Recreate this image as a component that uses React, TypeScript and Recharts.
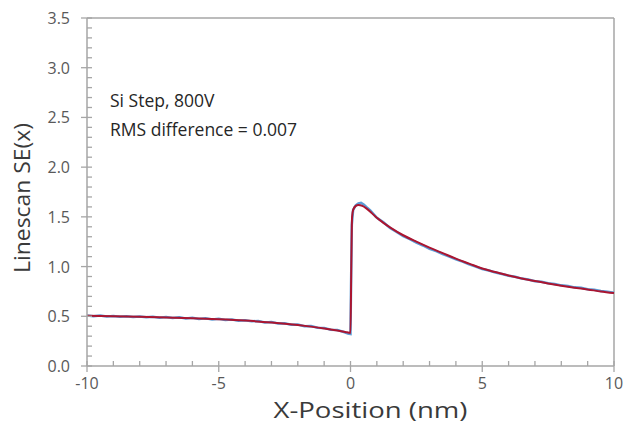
import { Line, LineChart, ReferenceLine, XAxis, YAxis } from "recharts";

// measured linescan (noisy) and fitted model, SE yield vs position
const measuredX = [
    -10, -9.75, -9.5, -9.25, -9, -8.75, -8.5, -8.25, -8, -7.75, -7.5, -7.25, -7, -6.75, -6.5, -6.25,
    -6, -5.75, -5.5, -5.25, -5, -4.75, -4.5, -4.25, -4, -3.75, -3.5, -3.25, -3, -2.75, -2.5, -2.25,
    -2, -1.75, -1.5, -1.25, -1, -0.75, -0.5, -0.25, -0.1, 0, 0.02, 0.05, 0.1, 0.2, 0.3, 0.4, 0.5,
    0.6, 0.75, 1, 1.25, 1.5, 1.75, 2, 2.25, 2.5, 2.75, 3, 3.25, 3.5, 3.75, 4, 4.25, 4.5, 4.75, 5,
    5.25, 5.5, 5.75, 6, 6.25, 6.5, 6.75, 7, 7.25, 7.5, 7.75, 8, 8.25, 8.5, 8.75, 9, 9.25, 9.5, 9.75, 10,
];
const measuredY = [
    0.508, 0.500, 0.507, 0.498, 0.503, 0.495, 0.501, 0.492, 0.498, 0.490, 0.496, 0.486, 0.493, 0.482, 0.489, 0.478,
    0.484, 0.473, 0.479, 0.468, 0.474, 0.463, 0.468, 0.455, 0.461, 0.449, 0.453, 0.438, 0.443, 0.427, 0.430, 0.414,
    0.417, 0.399, 0.401, 0.384, 0.383, 0.364, 0.361, 0.342, 0.326, 0.322, 0.80, 1.42, 1.57, 1.615, 1.635, 1.64, 1.625,
    1.60, 1.565, 1.49, 1.445, 1.388, 1.348, 1.305, 1.275, 1.240, 1.212, 1.178, 1.155, 1.125, 1.100, 1.072, 1.050, 1.022, 1.000, 0.976,
    0.960, 0.940, 0.926, 0.908, 0.897, 0.879, 0.870, 0.853, 0.847, 0.832, 0.824, 0.811, 0.804, 0.791, 0.786, 0.773, 0.767, 0.755, 0.748, 0.738,
];

const fitX = [
    -10, -9, -8, -7, -6, -5, -4, -3, -2, -1.5, -1, -0.5, -0.2, 0, 0.03, 0.06, 0.1, 0.2, 0.3, 0.45,
    0.6, 0.8, 1, 1.25, 1.5, 2, 2.5, 3, 3.5, 4, 4.5, 5, 5.5, 6, 6.5, 7, 7.5, 8, 8.5, 9, 9.5, 10,
];
const fitY = [
    0.505, 0.500, 0.495, 0.488, 0.480, 0.470, 0.457, 0.438, 0.412, 0.396, 0.378, 0.357, 0.343, 0.333, 1.0, 1.50, 1.57, 1.61, 1.62, 1.61,
    1.585, 1.54, 1.49, 1.44, 1.395, 1.315, 1.25, 1.19, 1.135, 1.08, 1.03, 0.98, 0.945, 0.91, 0.88, 0.855, 0.83, 0.808, 0.788, 0.77, 0.75, 0.733,
];

const xTicks = [-10, -9, -8, -7, -6, -5, -4, -3, -2, -1, 0, 1, 2, 3, 4, 5, 6, 7, 8, 9, 10];
const xMajorTicks = [-10, -5, 0, 5, 10];
const yTicks = [
    0, 0.1, 0.2, 0.3, 0.4, 0.5, 0.6, 0.7, 0.8, 0.9, 1.0, 1.1, 1.2, 1.3, 1.4, 1.5, 1.6, 1.7,
    1.8, 1.9, 2.0, 2.1, 2.2, 2.3, 2.4, 2.5, 2.6, 2.7, 2.8, 2.9, 3.0, 3.1, 3.2, 3.3, 3.4, 3.5,
];
const yMajorTicks = [0, 0.5, 1.0, 1.5, 2.0, 2.5, 3.0, 3.5];

const measured = measuredX.map((x, i) => ({ x, y: measuredY[i] }));
const fit = fitX.map((x, i) => ({ x, y: fitY[i] }));

const FONT = "'Open Sans', sans-serif";
const AXIS = "#a6a6a6";
const TEXT = "#595959";
const TITLE = "#3a3a3a";

function XTick(props: any) {
    const { x, y, payload } = props;
    const major = xMajorTicks.includes(payload.value);
    return (
        <g>
            <line x1={x} x2={x} y1={y - 5} y2={major ? y + 6 : y} stroke={AXIS} strokeWidth={1.3} />
            {major && (
                <text x={x} y={y + 23} textAnchor="middle" fill={TEXT} fontSize={16} fontFamily={FONT}>
                    {payload.value}
                </text>
            )}
        </g>
    );
}

function YTick(props: any) {
    const { x, y, payload } = props;
    const major = yMajorTicks.includes(payload.value);
    return (
        <g>
            <line x1={major ? x - 6 : x} x2={x + 5} y1={y} y2={y} stroke={AXIS} strokeWidth={1.3} />
            {major && (
                <text x={x - 17} y={y + 6} textAnchor="end" fill={TEXT} fontSize={16} fontFamily={FONT}>
                    {payload.value.toFixed(1)}
                </text>
            )}
        </g>
    );
}

function XTitle(props: any) {
    const { viewBox } = props;
    const cx = viewBox.x + viewBox.width / 2 + 20;
    return (
        <text x={cx} y={418} textAnchor="middle" fill={TITLE} fontSize={21} fontFamily={FONT}
            textLength={194} lengthAdjust="spacingAndGlyphs">
            X-Position (nm)
        </text>
    );
}

function YTitle(props: any) {
    const { viewBox } = props;
    const cy = viewBox.y + viewBox.height / 2 + 6;
    const cx = 22;
    return (
        <text x={cx} y={cy} transform={`rotate(-90 ${cx} ${cy})`} textAnchor="middle" dominantBaseline="central"
            fill={TITLE} fontSize={21} fontFamily={FONT} textLength={150} lengthAdjust="spacingAndGlyphs">
            Linescan SE(x)
        </text>
    );
}

export default function App() {
    return (
        <div style={{ position: "absolute", left: 0, top: 0, width: 626, height: 432, background: "#fff" }}>
            <LineChart width={626} height={432} margin={{ top: 18, right: 12, bottom: 36, left: 27 }}>
                <XAxis
                    type="number"
                    dataKey="x"
                    domain={[-10, 10]}
                    ticks={xTicks}
                    interval={0}
                    tick={XTick}
                    tickLine={false}
                    tickSize={0}
                    tickMargin={0}
                    height={30}
                    stroke={AXIS}
                    strokeWidth={1.5}
                    allowDuplicatedCategory={false}
                    label={{ content: XTitle }}
                />
                <YAxis
                    type="number"
                    dataKey="y"
                    domain={[0, 3.5]}
                    ticks={yTicks}
                    interval={0}
                    tick={YTick}
                    tickLine={false}
                    tickSize={0}
                    tickMargin={0}
                    width={60}
                    stroke={AXIS}
                    strokeWidth={1.5}
                    label={{ content: YTitle }}
                />
                <ReferenceLine y={3.5} stroke={AXIS} strokeWidth={1.5} />
                <ReferenceLine x={10} stroke={AXIS} strokeWidth={1.5} />
                <Line data={measured} dataKey="y" type="linear" stroke="#5b9bd5" strokeWidth={2.5} dot={false} isAnimationActive={false} />
                <Line data={fit} dataKey="y" type="monotone" stroke="#ab1530" strokeWidth={2} dot={false} isAnimationActive={false} />
            </LineChart>
            <div style={{ position: "absolute", left: 110, top: 86, fontFamily: FONT, fontSize: 17.5, lineHeight: "29px", color: "#262626" }}>
                <div>Si Step, 800V</div>
                <div>RMS difference = 0.007</div>
            </div>
        </div>
    );
}
